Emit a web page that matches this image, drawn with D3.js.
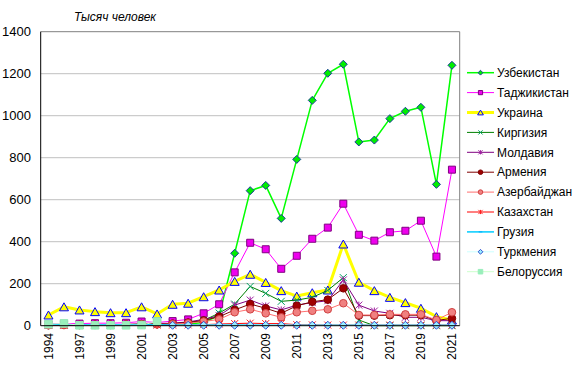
<!DOCTYPE html>
<html>
<head>
<meta charset="utf-8">
<script src="https://cdn.jsdelivr.net/npm/d3@7"></script>
<style>
  body { margin: 0; background: #fff; }
  svg { font-family: "Liberation Sans", Arial, sans-serif; }
</style>
</head>
<body>
<script>
// years on the category axis (1995 missing in the source table)
var years = ["1994","1996","1997","1998","1999","2000","2001","2002","2003","2004","2005","2006","2007",
  "2008","2009","2010","2011","2012","2013","2014","2015","2016","2017","2018","2019","2020","2021"];
var yTicks = [0, 200, 400, 600, 800, 1000, 1200, 1400];

// thousands of people
var uzbekistan   = [3,4,3,3,3,4,5,6,6,8,15,50,345,643,668,511,792,1073,1202,1245,875,884,986,1021,1040,673,1240];
var tajikistan   = [8,10,10,12,12,14,20,15,22,30,59,102,254,395,364,271,333,414,467,581,433,405,445,452,500,329,743];
var ukraine      = [51,90,75,67,62,62,90,56,102,107,138,170,211,245,206,167,141,157,170,389,207,167,135,110,83,43,27];
var kyrgyzstan   = [3,4,4,4,4,5,6,8,10,15,25,60,103,187,154,116,122,135,168,229,27,0,0,0,0,0,0];
var moldova      = [3,4,4,5,5,6,8,10,12,18,30,48,98,122,94,75,98,110,119,218,98,70,59,40,40,24,24];
var armenia      = [3,4,4,5,5,6,8,8,10,15,25,43,75,103,83,59,95,114,124,178,48,48,50,50,50,25,35];
var azerbaijan   = [2,3,3,4,4,5,6,6,8,12,20,30,64,78,59,40,64,71,78,107,51,51,54,54,54,27,64];
var kazakhstan   = [2,2,2,2,2,2,2,3,3,4,5,8,10,12,10,10,5,4,3,3,3,3,3,3,3,3,3];
var georgia      = [6,5,5,4,4,4,4,4,3,3,3,3,3,3,2,2,2,2,2,2,2,2,2,2,2,2,2];
var turkmenistan = [null,null,null,null,null,null,null,null,2,2,2,2,2,2,2,2,2,2,2,2,2,2,2,2,2,2,2];
var belarus      = [7,11,2,2,2,2,3,20,null,null,null,null,null,null,null,null,null,null,null,null,null,null,null,null,null,null,null];

var W = 576, H = 374;
var plotLeft = 40.7, plotRight = 459.7, plotTop = 31.7, plotBottom = 325.7;

var svg = d3.select("body").append("svg").attr("width", W).attr("height", H);

var x = d3.scalePoint().domain(years).range([plotLeft, plotRight]).padding(0.5);
var y = d3.scaleLinear().domain([0, 1400]).range([plotBottom, plotTop]);

// marker shapes
var shapes = {
  diamond: function (r) { return "M0," + (-r) + "L" + r + ",0L0," + r + "L" + (-r) + ",0Z"; },
  square: function (r) { return "M" + (-r) + "," + (-r) + "H" + r + "V" + r + "H" + (-r) + "Z"; },
  triangle: function (r) { return "M0," + (-r) + "L" + (r + 0.5) + "," + r + "L" + (-r - 0.5) + "," + r + "Z"; },
  circle: function (r) { return "M" + (-r) + ",0A" + r + "," + r + " 0 1,0 " + r + ",0A" + r + "," + r + " 0 1,0 " + (-r) + ",0Z"; },
  cross: function (r) { return "M" + (-r) + "," + (-r) + "L" + r + "," + r + "M" + r + "," + (-r) + "L" + (-r) + "," + r; },
  star: function (r) { return "M" + (-r) + "," + (-r) + "L" + r + "," + r + "M" + r + "," + (-r) + "L" + (-r) + "," + r + "M0," + (-r) + "V" + r; },
  dash: function (r) { return "M" + (-r) + ",0H" + r; }
};

var series = [
  { name: "Узбекистан", data: uzbekistan, line: "#00ff00", lw: 1.5, shape: "diamond", r: 4, fill: "#00ee00", stroke: "#1a3a9a" },
  { name: "Таджикистан", data: tajikistan, line: "#ff00ff", lw: 1, shape: "square", r: 3.5, fill: "#ee00ee", stroke: "#800080" },
  { name: "Украина", data: ukraine, line: "#ffff00", lw: 3, shape: "triangle", r: 4, fill: "#ffff00", stroke: "#0000ff" },
  { name: "Киргизия", data: kyrgyzstan, line: "#008000", lw: 1, shape: "cross", r: 3.5, fill: "none", stroke: "#00a060" },
  { name: "Молдавия", data: moldova, line: "#800080", lw: 1, shape: "star", r: 3.5, fill: "none", stroke: "#a020a0" },
  { name: "Армения", data: armenia, line: "#800000", lw: 1, shape: "circle", r: 3.8, fill: "#a00000", stroke: "#800000" },
  { name: "Азербайджан", data: azerbaijan, line: "#ff7070", lw: 1, shape: "circle", r: 3.8, fill: "#f08080", stroke: "#d04040" },
  { name: "Казахстан", data: kazakhstan, line: "#ff0000", lw: 1, shape: "star", r: 3.5, fill: "none", stroke: "#ff2020" },
  { name: "Грузия", data: georgia, line: "#00ccff", lw: 1.5, shape: "dash", r: 3, fill: "none", stroke: "#00aaff" },
  { name: "Туркмения", data: turkmenistan, line: "#ccffff", lw: 1, shape: "diamond", r: 4, fill: "#99eeff", stroke: "#3050d0" },
  { name: "Белоруссия", data: belarus, line: "#ccffcc", lw: 1, shape: "square", r: 3.8, fill: "#99eebb", stroke: "#99eebb" }
];

// gridlines
svg.append("g").selectAll("line").data(yTicks.slice(1, -1)).enter().append("line")
  .attr("x1", plotLeft).attr("x2", plotRight)
  .attr("y1", function (d) { return y(d); }).attr("y2", function (d) { return y(d); })
  .attr("stroke", "#c0c0c0").attr("stroke-width", 1);

// plot border (top / right grey)
svg.append("path")
  .attr("d", "M" + plotLeft + "," + plotTop + "H" + plotRight + "V" + plotBottom)
  .attr("fill", "none").attr("stroke", "#808080").attr("stroke-width", 1);

// y labels
svg.append("g").selectAll("text").data(yTicks).enter().append("text")
  .attr("x", 31).attr("y", function (d) { return y(d); })
  .attr("dy", "0.35em").attr("text-anchor", "end")
  .attr("font-size", 13).attr("fill", "#000")
  .text(function (d) { return d; });

// x labels, every second category
svg.append("g").selectAll("text").data(years.filter(function (d, i) { return i % 2 == 0; })).enter().append("text")
  .attr("transform", function (d) { return "translate(" + x(d) + ",333) rotate(-90)"; })
  .attr("dy", "0.35em").attr("text-anchor", "end")
  .attr("font-size", 12).attr("fill", "#000")
  .text(function (d) { return d; });

// title
svg.append("text").attr("x", 74).attr("y", 21)
  .attr("font-size", 12).attr("font-style", "italic").text("Тысяч человек");

var line = d3.line()
  .defined(function (d) { return d != null; })
  .x(function (d, i) { return x(years[i]); })
  .y(function (d) { return y(d); });

series.forEach(function (s) {
  var g = svg.append("g");
  g.append("path").attr("d", line(s.data))
    .attr("fill", "none").attr("stroke", s.line).attr("stroke-width", s.lw)
    .attr("stroke-linejoin", "round");
  var pts = s.data.map(function (v, i) { return [i, v]; }).filter(function (p) { return p[1] != null; });
  g.selectAll("path.m").data(pts).enter().append("path")
    .attr("class", "m")
    .attr("transform", function (p) { return "translate(" + x(years[p[0]]) + "," + y(p[1]) + ")"; })
    .attr("d", shapes[s.shape](s.r))
    .attr("fill", s.fill).attr("stroke", s.stroke).attr("stroke-width", 1);
});

// axes (black left and bottom)
svg.append("line").attr("x1", plotLeft).attr("x2", plotLeft).attr("y1", plotTop).attr("y2", plotBottom).attr("stroke", "#000");
svg.append("line").attr("x1", plotLeft).attr("x2", plotRight).attr("y1", plotBottom).attr("y2", plotBottom).attr("stroke", "#000");

// legend
var lg = svg.append("g").selectAll("g").data(series).enter().append("g")
  .attr("transform", function (d, i) { return "translate(467," + (72.7 + i * 19.9) + ")"; });
lg.append("line").attr("x1", 0).attr("x2", 27).attr("y1", 0).attr("y2", 0)
  .attr("stroke", function (d) { return d.line; })
  .attr("stroke-width", function (d) { return d.lw; });
lg.append("path").attr("transform", "translate(13.5,0)")
  .attr("d", function (d) { return shapes[d.shape](d.r * 0.6); })
  .attr("fill", function (d) { return d.fill; })
  .attr("stroke", function (d) { return d.stroke; }).attr("stroke-width", 1);
lg.append("text").attr("x", 30).attr("dy", "0.35em")
  .attr("font-size", 12).attr("fill", "#000")
  .text(function (d) { return d.name; });
</script>
</body>
</html>
